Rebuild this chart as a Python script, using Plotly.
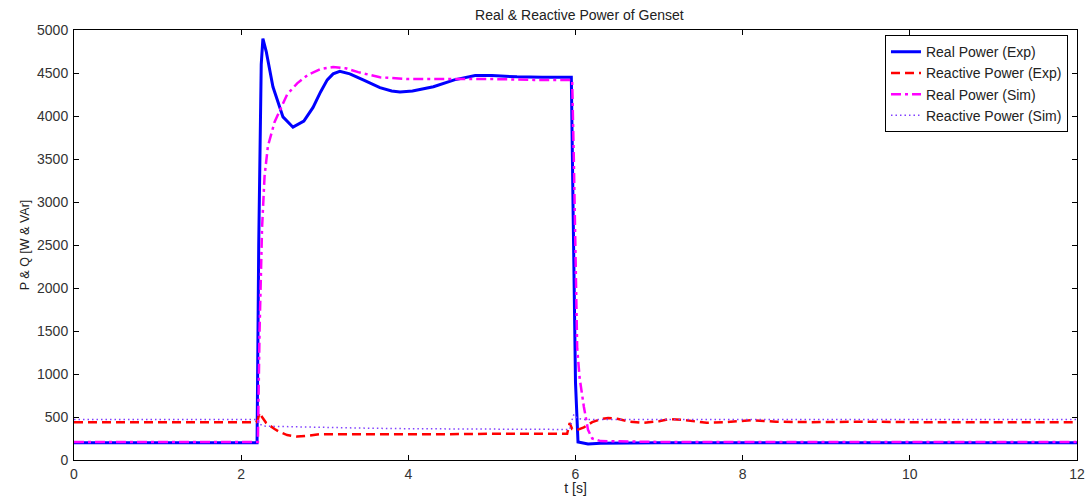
import plotly.graph_objects as go

# Real power, experiment
t_p_exp = [0, 2.19, 2.21, 2.24, 2.26, 2.30, 2.38, 2.50, 2.62, 2.75, 2.86, 2.95, 3.03,
           3.10, 3.18, 3.30, 3.46, 3.66, 3.80, 3.90, 4.05, 4.30, 4.55, 4.80, 5.00,
           5.30, 5.60, 5.95, 5.97, 6.00, 6.03, 6.15, 6.30, 7.00, 12.0]
p_exp = [200, 200, 2500, 4600, 4900, 4750, 4340, 3990, 3870, 3940, 4100, 4280, 4420,
         4490, 4520, 4490, 4420, 4330, 4290, 4280, 4290, 4340, 4420, 4470, 4470,
         4455, 4450, 4450, 3000, 900, 210, 185, 195, 200, 200]

# Reactive power, experiment
t_q_exp = [0, 2.18, 2.20, 2.22, 2.25, 2.30, 2.40, 2.46, 2.55, 2.67, 2.80, 2.94, 3.20,
           3.50, 4.00, 4.50, 5.00, 5.50, 5.90, 5.93, 5.96, 6.02, 6.10, 6.20, 6.30,
           6.39, 6.50, 6.65, 6.80, 7.00, 7.13, 7.30, 7.57, 7.80, 8.10, 8.40, 8.80,
           9.50, 10.0, 11.0, 12.0]
q_exp = [440, 440, 470, 550, 500, 430, 360, 326, 290, 272, 282, 300, 300,
         300, 295, 300, 305, 305, 305, 430, 360, 350, 380, 440, 475,
         488, 480, 445, 432, 450, 477, 465, 432, 440, 462, 445, 440,
         445, 440, 440, 440]

# Real power, simulation
t_p_sim = [0, 2.20, 2.22, 2.25, 2.28, 2.32, 2.40, 2.46, 2.55, 2.67, 2.80, 2.95, 3.10,
           3.25, 3.40, 3.66, 4.00, 4.50, 5.00, 5.50, 5.96, 5.98, 6.00, 6.02, 6.05,
           6.10, 6.15, 6.20, 6.30, 7.00, 12.0]
p_sim = [210, 210, 1500, 2700, 3300, 3650, 3930, 4050, 4250, 4380, 4480, 4545, 4570,
         4555, 4510, 4450, 4430, 4430, 4430, 4420, 4420, 3500, 2200, 1300, 950,
         620, 350, 250, 220, 210, 210]

# Reactive power, simulation
t_q_sim = [0, 2.19, 2.22, 2.26, 2.35, 2.50, 3.00, 3.50, 4.00, 4.50, 5.00, 5.93,
           5.96, 5.98, 6.02, 6.10, 12.0]
q_sim = [470, 470, 420, 395, 392, 388, 378, 370, 364, 360, 357, 355,
         470, 530, 485, 470, 470]

x_ticks = [0, 2, 4, 6, 8, 10, 12]
y_ticks = [0, 500, 1000, 1500, 2000, 2500, 3000, 3500, 4000, 4500, 5000]

FONT = "Liberation Sans, Arial, sans-serif"

fig = go.Figure()
fig.add_trace(go.Scatter(x=t_p_exp, y=p_exp, mode="lines", name="Real Power (Exp)",
                         line=dict(color="#0000ff", width=3)))
fig.add_trace(go.Scatter(x=t_q_exp, y=q_exp, mode="lines", name="Reactive Power (Exp)",
                         line=dict(color="#ff0000", width=2.5, dash="9px,5px")))
fig.add_trace(go.Scatter(x=t_p_sim, y=p_sim, mode="lines", name="Real Power (Sim)",
                         line=dict(color="#ff00ff", width=2.5, dash="10px,4px,3px,4px")))
fig.add_trace(go.Scatter(x=t_q_sim, y=q_sim, mode="lines", name="Reactive Power (Sim)",
                         line=dict(color="#8040ff", width=1.5, dash="1.5px,3px")))

axis_common = dict(
    showgrid=False, zeroline=False, showline=True, linecolor="#000000", linewidth=1,
    mirror="ticks", ticks="inside", ticklen=5, tickcolor="#000000",
    tickfont=dict(family=FONT, size=14, color="#333333"),
)

fig.update_layout(
    width=1085, height=496,
    margin=dict(l=74, r=8, t=30, b=36),
    paper_bgcolor="white", plot_bgcolor="white",
    title=dict(text="Real & Reactive Power of Genset", x=0.534, xanchor="center",
               y=0.97, yanchor="middle",
               font=dict(family=FONT, size=14, color="#222222")),
    xaxis=dict(range=[0, 12], tickvals=x_ticks, ticklabelstandoff=1, automargin=False,
               title=dict(text="t [s]",
                          font=dict(family=FONT, size=14, color="#222222")),
               **axis_common),
    yaxis=dict(range=[0, 5000], tickvals=y_ticks, ticklabelstandoff=2, automargin=True,
               title=dict(text="P & Q [W & VAr]", standoff=4,
                          font=dict(family=FONT, size=12.5, color="#222222")),
               **axis_common),
    legend=dict(x=0.991, y=0.988, xanchor="right", yanchor="top",
                bgcolor="white", bordercolor="#000000", borderwidth=1,
                font=dict(family=FONT, size=14, color="#222222"),
                tracegroupgap=0, itemwidth=30),
    showlegend=True,
)

fig.write_html("out.html")
